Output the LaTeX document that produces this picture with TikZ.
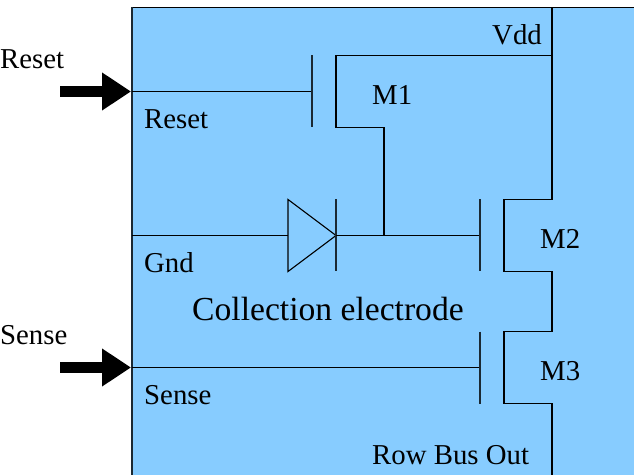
\documentclass[tikz,border=0pt]{standalone}
\usepackage{fontspec}
\setmainfont{Liberation Serif}
\usetikzlibrary{arrows.meta}
\definecolor{chipblue}{RGB}{135,204,255}
\tikzset{
  x=1bp,y=-1bp,
  wire/.style={draw=black,line width=1.1bp},
  gatebar/.style={draw=black!80!chipblue,line width=1.1bp},
  bigarrow/.style={line width=10.6bp,-{Triangle[length=29bp,width=36bp]}},
  lab/.style={anchor=base west,inner sep=0pt,font=\fontsize{28.8bp}{32bp}\selectfont},
  biglab/.style={anchor=base west,inner sep=0pt,font=\fontsize{33.6bp}{38bp}\selectfont}
}
\begin{document}
\begin{tikzpicture}
\useasboundingbox (0,0) rectangle (634,475);
\fill[chipblue] (132,7.5) rectangle (634,475);
\coordinate (boxtl) at (132,7.5);
\coordinate (boxtr) at (634,7.5);
\coordinate (boxbl) at (132,475);
\draw[wire] (boxtl) -- (boxtr);
\draw[gatebar] (boxbl) -- (boxtl);
% supply rail and series transistors
\coordinate (vddtop) at (552,7.5);
\coordinate (vddj) at (552,55.5);
\coordinate (m2a) at (552,199.5);
\coordinate (m2b) at (504,199.5);
\coordinate (m2c) at (504,271.5);
\coordinate (m2d) at (552,271.5);
\coordinate (m3a) at (552,331.5);
\coordinate (m3b) at (504,331.5);
\coordinate (m3c) at (504,403.5);
\coordinate (m3d) at (552,403.5);
\coordinate (railend) at (552,475);
\draw[wire] (vddtop) -- (m2a) -- (m2b) -- (m2c) -- (m2d) -- (m3a) -- (m3b) -- (m3c) -- (m3d) -- (railend);
% M1
\coordinate (m1a) at (336,55.5);
\coordinate (m1b) at (336,127.5);
\coordinate (m1c) at (384,127.5);
\coordinate (sn) at (384,235.5);
\draw[wire] (vddj) -- (m1a) -- (m1b) -- (m1c) -- (sn);
\coordinate (rin) at (132,91.5);
\coordinate (rg) at (312,91.5);
\coordinate (rgt) at (312,55.5);
\coordinate (rgb) at (312,127.5);
\draw[wire] (rin) -- (rg);
\draw[gatebar] (rgt) -- (rgb);
% diode and M2 gate
\coordinate (gin) at (132,235.5);
\coordinate (da) at (288,235.5);
\coordinate (dt) at (288,199.5);
\coordinate (db) at (288,271.5);
\coordinate (dk) at (336,235.5);
\coordinate (dkt) at (336,199.5);
\coordinate (dkb) at (336,271.5);
\coordinate (g2) at (480,235.5);
\coordinate (g2t) at (480,199.5);
\coordinate (g2b) at (480,271.5);
\draw[wire] (gin) -- (da);
\draw[wire,line join=miter] (dt) -- (dk) -- (db) -- cycle;
\draw[gatebar] (dkt) -- (dkb);
\draw[wire] (dk) -- (g2);
\draw[gatebar] (g2t) -- (g2b);
% M3 gate
\coordinate (sin) at (132,367.5);
\coordinate (g3) at (480,367.5);
\coordinate (g3t) at (480,331.5);
\coordinate (g3b) at (480,403.5);
\draw[wire] (sin) -- (g3);
\draw[gatebar] (g3t) -- (g3b);
% input arrows
\coordinate (ra) at (60,91.5);
\coordinate (rt) at (131,91.5);
\coordinate (sa) at (60,367.5);
\coordinate (st) at (131,367.5);
\draw[bigarrow] (ra) -- (rt);
\draw[bigarrow] (sa) -- (st);
% labels
\node[lab] (lresetout) at (0,68.6) {Reset};
\node[lab] (lresetin) at (144,128.3) {Reset};
\node[lab] (lvdd) at (492,44.3) {Vdd};
\node[lab] (lm1) at (372,104.3) {M1};
\node[lab] (lm2) at (540,248.3) {M2};
\node[lab] (lm3) at (540,380.3) {M3};
\node[lab] (lgnd) at (144,272.8) {Gnd};
\node[biglab] (lcoll) at (192,320.3) {Collection electrode};
\node[lab] (lsenseout) at (0,344.3) {Sense};
\node[lab] (lsensein) at (144,404.3) {Sense};
\node[lab] (lrow) at (372,464.3) {Row Bus Out};
\end{tikzpicture}
\end{document}
